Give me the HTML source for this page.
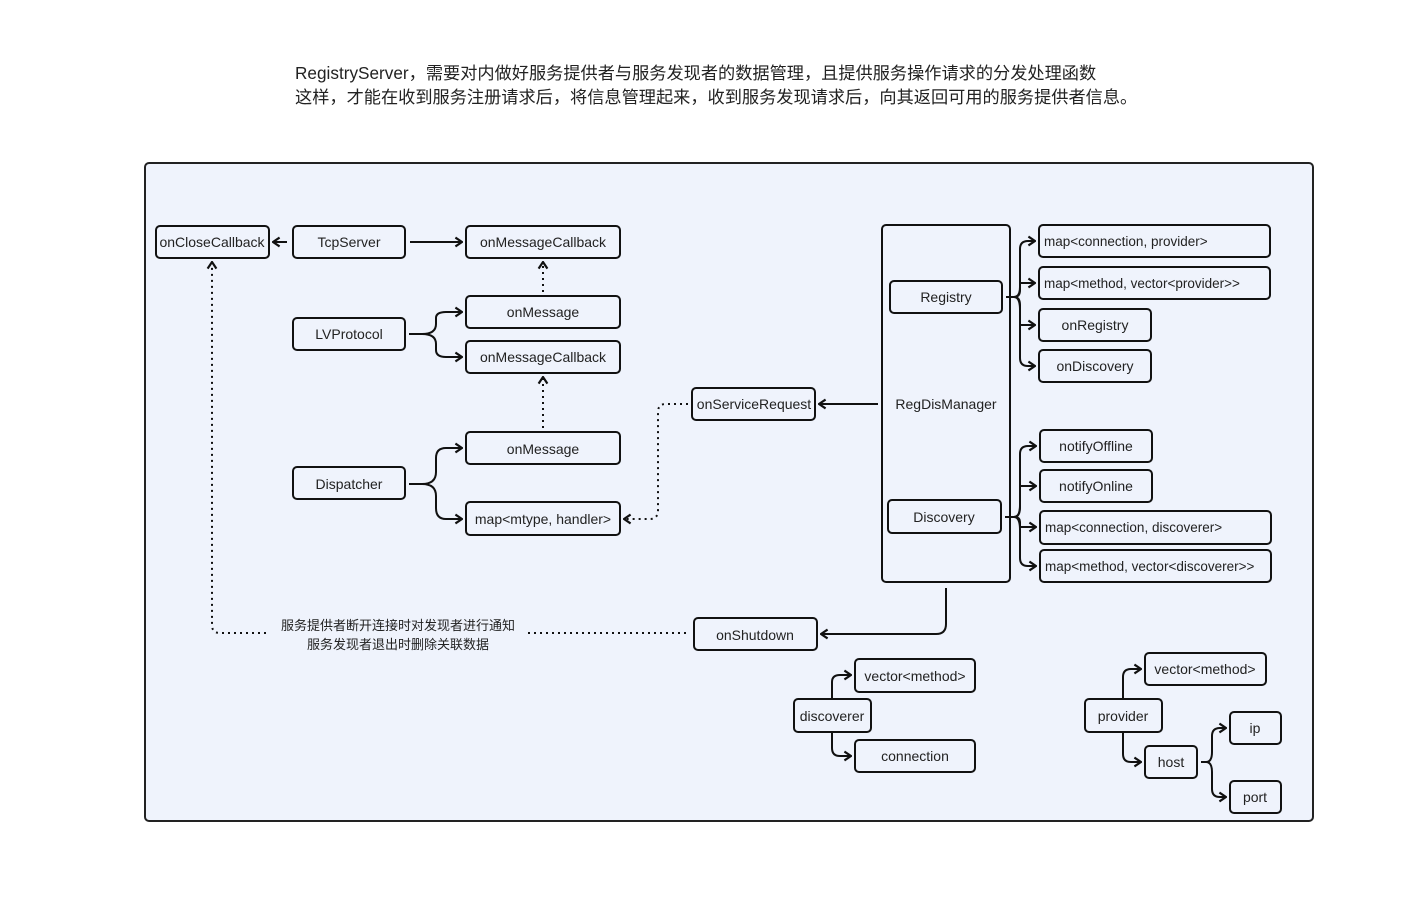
<!DOCTYPE html>
<html><head><meta charset="utf-8"><style>
html,body{margin:0;padding:0;background:#fff;width:1407px;height:899px;overflow:hidden}
svg text{font-family:"Liberation Sans","Noto Sans CJK SC",sans-serif;fill:#222}
</style></head><body>
<svg width="1407" height="899" viewBox="0 0 1407 899" xmlns="http://www.w3.org/2000/svg">
<defs>
<marker id="a" viewBox="0 0 10 10" refX="9" refY="5" markerWidth="11" markerHeight="11" markerUnits="userSpaceOnUse" orient="auto">
<path d="M3,1 L9,5 L3,9" fill="none" stroke="#111" stroke-width="2"/>
</marker>
</defs>
<text x="295" y="79" font-size="17.2">RegistryServer，需要对内做好服务提供者与服务发现者的数据管理，且提供服务操作请求的分发处理函数</text>
<text x="295" y="103" font-size="17.2">这样，才能在收到服务注册请求后，将信息管理起来，收到服务发现请求后，向其返回可用的服务提供者信息。</text>
<rect x="145" y="163" width="1168" height="658" rx="4" fill="#eff3fc" stroke="#222" stroke-width="2"/>
<g fill="none" stroke="#111" stroke-width="2">
<rect x="156" y="226" width="113" height="32" rx="4"/>
<rect x="293" y="226" width="112" height="32" rx="4"/>
<rect x="466" y="226" width="154" height="32" rx="4"/>
<rect x="466" y="296" width="154" height="32" rx="4"/>
<rect x="293" y="318" width="112" height="32" rx="4"/>
<rect x="466" y="341" width="154" height="32" rx="4"/>
<rect x="692" y="388" width="123" height="32" rx="4"/>
<rect x="466" y="432" width="154" height="32" rx="4"/>
<rect x="293" y="467" width="112" height="32" rx="4"/>
<rect x="466" y="502" width="154" height="33" rx="4"/>
<rect x="882" y="225" width="128" height="357" rx="4"/>
<rect x="890" y="281" width="112" height="32" rx="4"/>
<rect x="888" y="500" width="113" height="33" rx="4"/>
<rect x="1039" y="225" width="231" height="32" rx="4"/>
<rect x="1039" y="267" width="231" height="32" rx="4"/>
<rect x="1039" y="309" width="112" height="32" rx="4"/>
<rect x="1039" y="350" width="112" height="32" rx="4"/>
<rect x="1040" y="430" width="112" height="32" rx="4"/>
<rect x="1040" y="470" width="112" height="32" rx="4"/>
<rect x="1040" y="511" width="231" height="33" rx="4"/>
<rect x="1040" y="550" width="231" height="32" rx="4"/>
<rect x="694" y="618" width="123" height="32" rx="4"/>
<rect x="794" y="699" width="77" height="33" rx="4"/>
<rect x="855" y="659" width="120" height="33" rx="4"/>
<rect x="855" y="740" width="120" height="32" rx="4"/>
<rect x="1085" y="699" width="77" height="33" rx="4"/>
<rect x="1145" y="653" width="121" height="32" rx="4"/>
<rect x="1145" y="746" width="52" height="32" rx="4"/>
<rect x="1230" y="712" width="51" height="32" rx="4"/>
<rect x="1230" y="781" width="51" height="32" rx="4"/>
</g>
<g fill="none" stroke="#111" stroke-width="2" marker-end="url(#a)">
<path d="M287,242 H273"/>
<path d="M410,242 H462"/>
<path d="M409,334 H422 Q436,334 436,324 V318 Q436,312 446,312 H462"/>
<path d="M422,334 Q436,334 436,344 V350 Q436,357 446,357 H462"/>
<path d="M409,484 H422 Q436,484 436,472 V458 Q436,448 446,448 H462"/>
<path d="M422,484 Q436,484 436,496 V508 Q436,519 446,519 H462"/>
<path d="M878,404 H819"/>
<path d="M946,588 V624 Q946,634 936,634 H821"/>
<path d="M1006,297 H1014 Q1020,297 1020,287 V249 Q1020,241 1028,241 H1035"/>
<path d="M1014,297 Q1020,297 1020,290 V283 H1035"/>
<path d="M1014,297 Q1020,297 1020,305 V325 H1035"/>
<path d="M1014,297 Q1020,297 1020,310 V358 Q1020,366 1028,366 H1035"/>
<path d="M1005,517 H1014 Q1020,517 1020,507 V454 Q1020,446 1028,446 H1036"/>
<path d="M1014,517 Q1020,517 1020,505 V486 H1036"/>
<path d="M1014,517 Q1020,517 1020,522 V527 H1036"/>
<path d="M1014,517 Q1020,517 1020,530 V558 Q1020,566 1028,566 H1036"/>
<path d="M832,699 V682 Q832,675 840,675 H851"/>
<path d="M832,732 V748 Q832,756 840,756 H851"/>
<path d="M1123,699 V677 Q1123,669 1131,669 H1141"/>
<path d="M1123,732 V754 Q1123,762 1131,762 H1141"/>
<path d="M1201,762 H1206 Q1212,762 1212,752 V736 Q1212,728 1220,728 H1226"/>
<path d="M1206,762 Q1212,762 1212,772 V789 Q1212,797 1220,797 H1226"/>
</g>
<g fill="none" stroke="#111" stroke-width="2" stroke-dasharray="2,4" marker-end="url(#a)">
<path d="M543,292 V262"/>
<path d="M543,428 V377"/>
<path d="M688,404 H666 Q658,404 658,412 V510 Q658,519 650,519 H624"/>
<path d="M266,633 H220 Q212,633 212,625 V262"/>
</g>
<path d="M528,633 H690" fill="none" stroke="#111" stroke-width="2" stroke-dasharray="2,4"/>
<g font-size="14" text-anchor="middle">
<text x="212" y="247">onCloseCallback</text>
<text x="349" y="247">TcpServer</text>
<text x="543" y="247">onMessageCallback</text>
<text x="543" y="317">onMessage</text>
<text x="349" y="339">LVProtocol</text>
<text x="543" y="362">onMessageCallback</text>
<text x="754" y="409">onServiceRequest</text>
<text x="543" y="454">onMessage</text>
<text x="349" y="489">Dispatcher</text>
<text x="543" y="524">map&lt;mtype, handler&gt;</text>
<text x="946" y="409">RegDisManager</text>
<text x="946" y="302">Registry</text>
<text x="944" y="522">Discovery</text>
<text x="1095" y="330">onRegistry</text>
<text x="1095" y="371">onDiscovery</text>
<text x="1096" y="451">notifyOffline</text>
<text x="1096" y="491">notifyOnline</text>
<text x="755" y="640">onShutdown</text>
<text x="832" y="721">discoverer</text>
<text x="915" y="681">vector&lt;method&gt;</text>
<text x="915" y="761">connection</text>
<text x="1123" y="721">provider</text>
<text x="1205" y="674">vector&lt;method&gt;</text>
<text x="1171" y="767">host</text>
<text x="1255" y="733">ip</text>
<text x="1255" y="802">port</text>
</g>
<g font-size="13.5">
<text x="1044" y="246">map&lt;connection, provider&gt;</text>
<text x="1044" y="288">map&lt;method, vector&lt;provider&gt;&gt;</text>
<text x="1045" y="532">map&lt;connection, discoverer&gt;</text>
<text x="1045" y="571">map&lt;method, vector&lt;discoverer&gt;&gt;</text>
</g>
<g font-size="13" text-anchor="middle">
<text x="398" y="630">服务提供者断开连接时对发现者进行通知</text>
<text x="398" y="649">服务发现者退出时删除关联数据</text>
</g>
</svg>
</body></html>
